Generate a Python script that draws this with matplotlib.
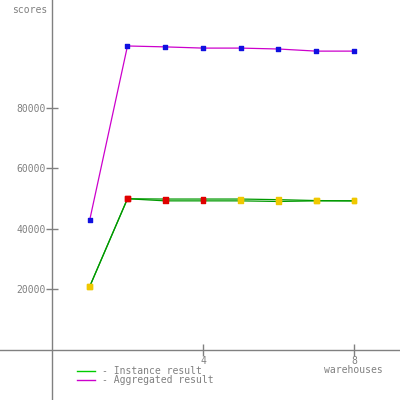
import matplotlib
matplotlib.use("Agg")
import matplotlib.pyplot as plt

warehouses = [1, 2, 3, 4, 5, 6, 7, 8]
aggregated = [43000, 100500, 100200, 99800, 99800, 99500, 98800, 98800]
instance_a = [21000, 50000, 49900, 49900, 49900, 49700, 49400, 49300]
instance_b = [21000, 50000, 49300, 49300, 49300, 49100, 49300, 49300]
instance_marker_colors = ['#f0c800', '#e00000', '#e00000', '#e00000',
                          '#f0c800', '#f0c800', '#f0c800', '#f0c800']
y_ticks = [20000, 40000, 60000, 80000]
x_ticks = [4, 8]

GRAY = '#808080'
FONT = 'DejaVu Sans Mono'

fig = plt.figure(figsize=(4, 4), dpi=100)
ax = fig.add_axes([0, 0, 1, 1])
ax.set_xlim(-1.377, 9.22)
ax.set_ylim(-16530, 115700)

ax.plot(warehouses, aggregated, color='#cc00cc', lw=0.9, zorder=2)
ax.plot(warehouses, instance_a, color='#009900', lw=0.9, zorder=2)
ax.plot(warehouses, instance_b, color='#009900', lw=0.9, zorder=2)
ax.scatter(warehouses, aggregated, marker='s', s=12, color='#1010e0', zorder=3)
ax.scatter(warehouses, instance_a, marker='s', s=12, c=instance_marker_colors, zorder=3)
ax.scatter(warehouses, instance_b, marker='s', s=12, c=instance_marker_colors, zorder=3)

for s in ['top', 'right']:
    ax.spines[s].set_visible(False)
ax.spines['left'].set_position(('data', 0))
ax.spines['bottom'].set_position(('data', 0))
for s in ['left', 'bottom']:
    ax.spines[s].set_color(GRAY)
    ax.spines[s].set_linewidth(1)

ax.set_yticks(y_ticks)
ax.set_yticklabels([str(v) for v in y_ticks], fontfamily=FONT, fontsize=7, color=GRAY)
ax.set_xticks(x_ticks)
ax.set_xticklabels([str(v) for v in x_ticks], fontfamily=FONT, fontsize=7, color=GRAY)
ax.tick_params(axis='both', direction='inout', length=9, width=1, color=GRAY, pad=0)

fig.text(0.03, 0.987, 'scores', fontfamily=FONT, fontsize=7, color=GRAY, ha='left', va='top')
fig.text(0.958, 0.074, 'warehouses', fontfamily=FONT, fontsize=7, color=GRAY, ha='right', va='center')

# legend
fig.add_artist(plt.Line2D([0.193, 0.238], [0.072, 0.072], color='#00cc00', lw=1))
fig.add_artist(plt.Line2D([0.193, 0.238], [0.050, 0.050], color='#cc00cc', lw=1))
fig.text(0.255, 0.072, '- Instance result', fontfamily=FONT, fontsize=7, color=GRAY, ha='left', va='center')
fig.text(0.255, 0.050, '- Aggregated result', fontfamily=FONT, fontsize=7, color=GRAY, ha='left', va='center')

fig.savefig('out.png', dpi=100)
